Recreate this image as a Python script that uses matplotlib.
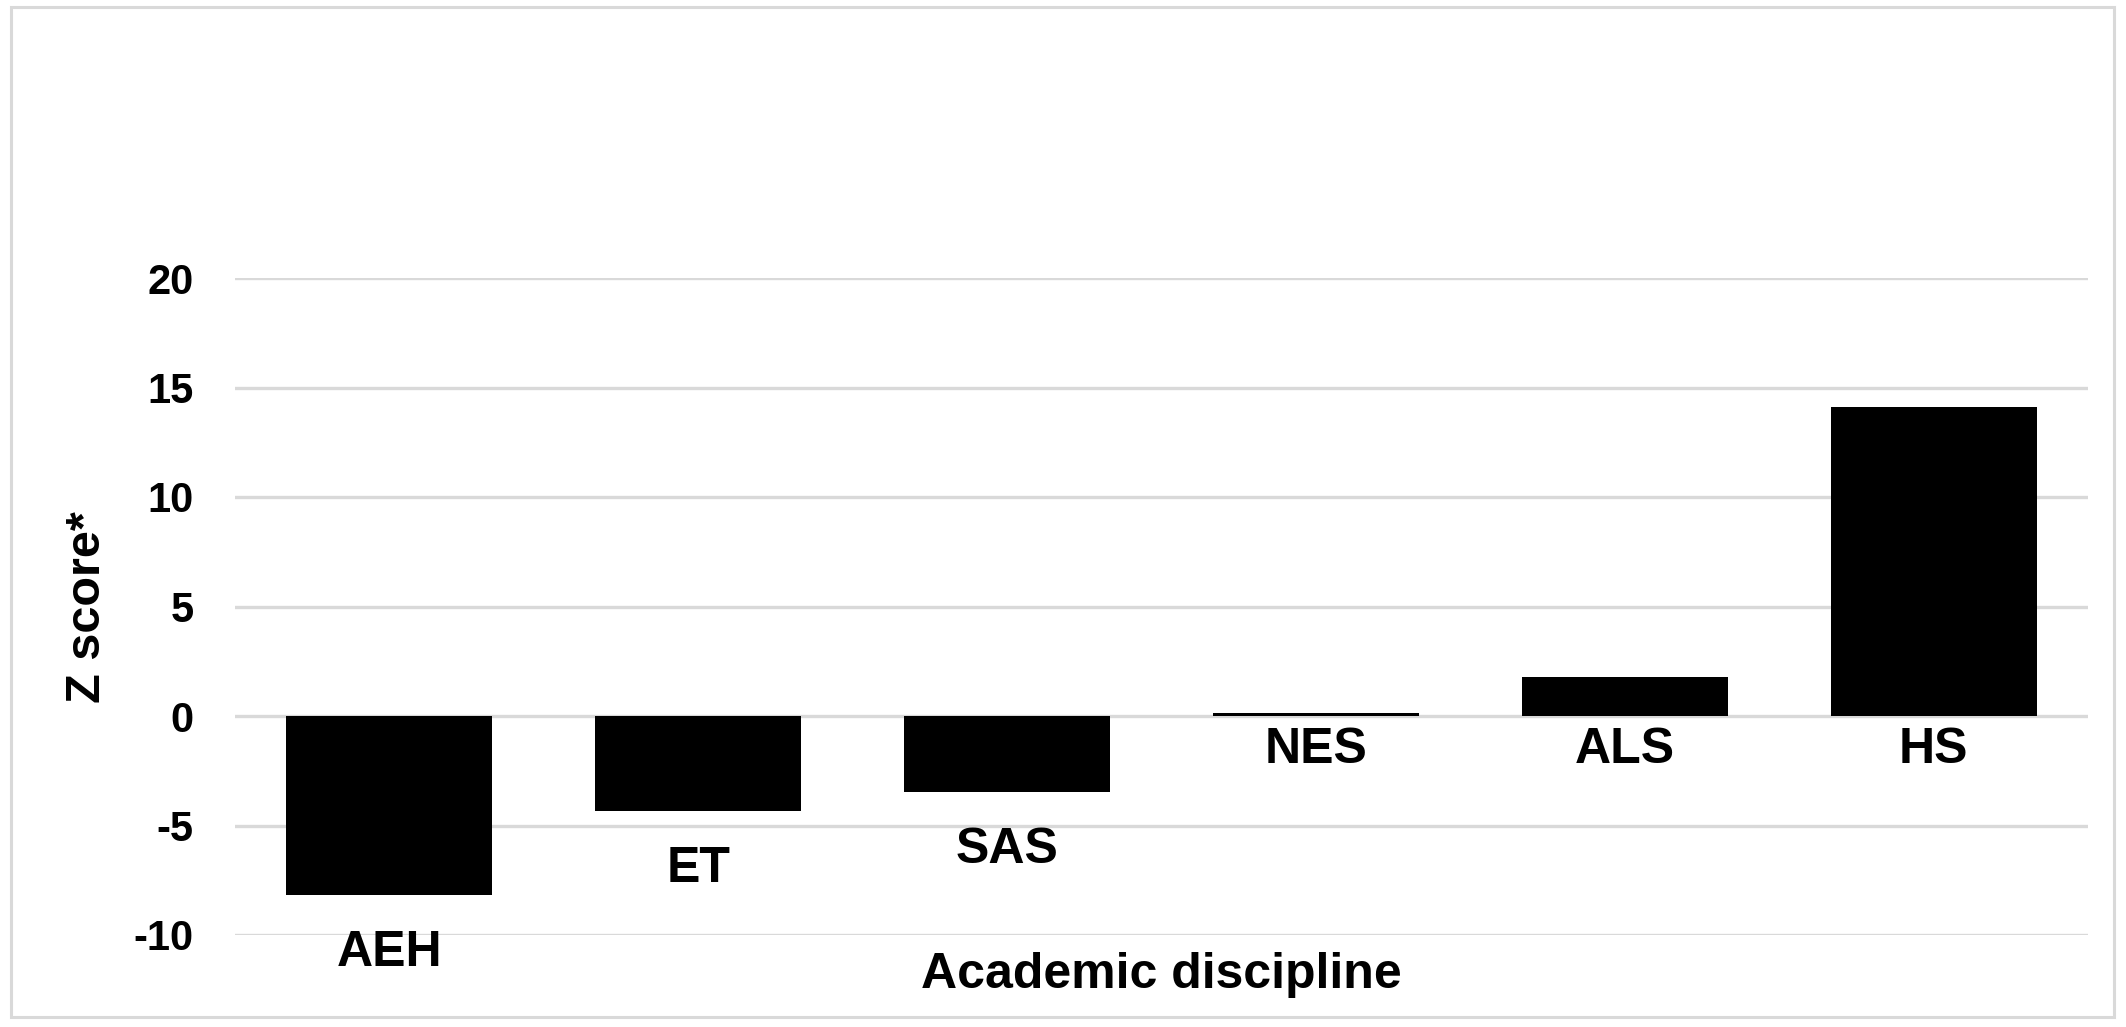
import matplotlib
matplotlib.use('Agg')
import matplotlib.pyplot as plt
from matplotlib.patches import Rectangle

# data
disciplines = ['AEH', 'ET', 'SAS', 'NES', 'ALS', 'HS']
z_scores = [-8.17, -4.34, -3.47, 0.12, 1.77, 14.1]
y_ticks = [-10, -5, 0, 5, 10, 15, 20]

plt.rcParams['font.family'] = ['Liberation Sans', 'DejaVu Sans']
plt.rcParams['font.weight'] = 'bold'

W, H = 2126, 1027
fig = plt.figure(figsize=(W / 100, H / 100), dpi=100)
ax = fig.add_axes([235 / W, 1 - 935 / H, (2088 - 235) / W, (935 - 278) / H])

x = range(len(disciplines))
ax.bar(x, z_scores, width=0.667, color='black', zorder=3)

ax.set_xlim(-0.5, len(disciplines) - 0.5)
ax.set_ylim(-10, 20)
ax.set_yticks(y_ticks)
ax.set_yticklabels([str(t) for t in y_ticks], fontsize=30, fontweight='bold')
ax.tick_params(axis='y', length=0, pad=30)
ax.set_xticks([])
ax.grid(axis='y', color='#d9d9d9', linewidth=2.4, zorder=0)
for s in ax.spines.values():
    s.set_visible(False)

# category names sit just under the bar (or under zero for positive bars)
for i, v in enumerate(z_scores):
    off = -25 if v < 0 else -8
    ax.annotate(disciplines[i], (i, min(v, 0)), xytext=(0, off),
                textcoords='offset points', ha='center', va='top',
                fontsize=36, fontweight='bold')

fig.text(1161 / W, 1 - 988 / H, 'Academic discipline', ha='center',
         va='baseline', fontsize=36, fontweight='bold')
fig.text(87 / W, 1 - 607 / H, 'Z score*', ha='center', va='center',
         rotation=90, fontsize=35, fontweight='bold')

fig.add_artist(Rectangle((11 / W, 1 - 1017 / H), (2114 - 11) / W, (1017 - 7) / H,
                         transform=fig.transFigure, fill=False,
                         edgecolor='#d9d9d9', linewidth=2.2))

fig.savefig('out.png', dpi=100, facecolor='white')
